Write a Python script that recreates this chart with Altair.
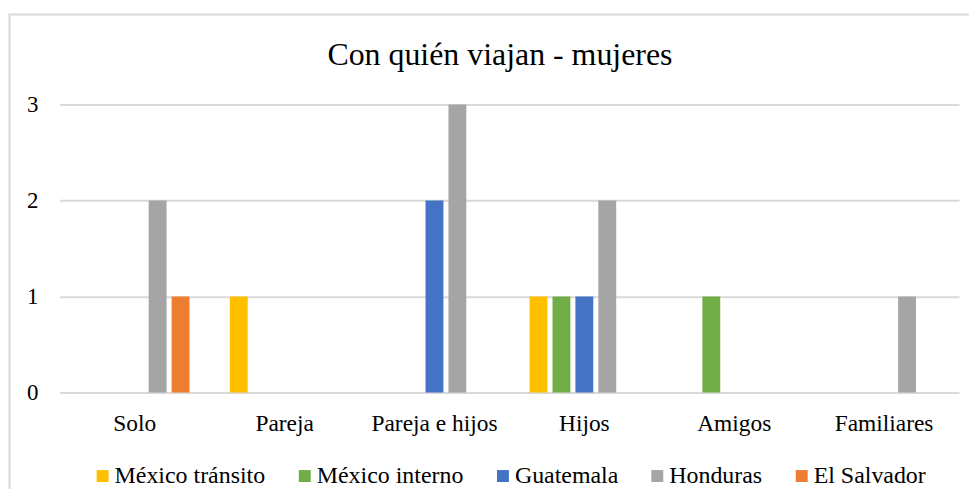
import altair as alt
import pandas as pd

categories = ["Solo", "Pareja", "Pareja e hijos", "Hijos", "Amigos", "Familiares"]
series = ["México tránsito", "México interno", "Guatemala", "Honduras", "El Salvador"]
colors = ["#FFC000", "#70AD47", "#4472C4", "#A5A5A5", "#ED7D31"]
title_text = "Con quién viajan - mujeres"

mexico_transito = [0, 1, 0, 1, 0, 0]
mexico_interno = [0, 0, 0, 1, 1, 0]
guatemala = [0, 0, 2, 1, 0, 0]
honduras = [2, 0, 3, 2, 0, 1]
el_salvador = [1, 0, 0, 0, 0, 0]

values_by_series = [mexico_transito, mexico_interno, guatemala, honduras, el_salvador]

rows = []
for s, vals in zip(series, values_by_series):
    for c, v in zip(categories, vals):
        rows.append({"categoria": c, "serie": s, "valor": v})
df = pd.DataFrame(rows)

FONT = "Liberation Serif"

bars = alt.Chart(df).mark_bar().encode(
    x=alt.X("categoria:N", sort=categories,
            scale=alt.Scale(paddingInner=0, paddingOuter=0),
            axis=alt.Axis(title=None, labelAngle=0, ticks=False, domain=False,
                          grid=False,
                          labelFont=FONT, labelFontSize=23.5, labelColor="#000000",
                          labelPadding=19, labelBaseline="top")),
    xOffset=alt.XOffset("serie:N", sort=series,
                        scale=alt.Scale(paddingInner=0.22, paddingOuter=0.88)),
    y=alt.Y("valor:Q", scale=alt.Scale(domain=[0, 3]),
            axis=alt.Axis(title=None, values=[0, 1, 2, 3], format="d", ticks=False,
                          domain=False, grid=True, gridColor="#D9D9D9", gridWidth=2,
                          labelFont=FONT, labelFontSize=23, labelColor="#000000",
                          labelPadding=22)),
    color=alt.Color("serie:N", sort=series,
                    scale=alt.Scale(domain=series, range=colors),
                    legend=alt.Legend(title=None, orient="none", direction="horizontal",
                                      legendX=31, legendY=361, padding=0,
                                      symbolType="square", symbolSize=144,
                                      symbolStrokeWidth=0, labelFont=FONT,
                                      labelFontSize=24, labelColor="#000000",
                                      labelOffset=0, columnPadding=27)),
)

frame = alt.Chart(alt.Data(values=[{}])).mark_rect(
    fill="transparent", stroke="#D9D9D9", strokeWidth=2
).encode(
    x=alt.value(-50.5), x2=alt.value(940),
    y=alt.value(-90.5), y2=alt.value(430),
)

title = alt.Chart(alt.Data(values=[{"t": title_text}])).mark_text(
    font=FONT, fontSize=32, color="#000000", align="center", baseline="alphabetic"
).encode(
    text="t:N", x=alt.value(442), y=alt.value(-40),
)

chart = alt.layer(frame, title, bars).properties(
    width=903, height=289,
    background="#FFFFFF",
    autosize=alt.AutoSizeParams(type="none"),
    padding={"left": 52, "top": 96, "right": 10, "bottom": 96},
).configure_view(
    stroke=None, strokeWidth=0
).configure_axis(
    domain=False
)

chart.save("out.html", embed_options={"renderer": "svg", "actions": False})
